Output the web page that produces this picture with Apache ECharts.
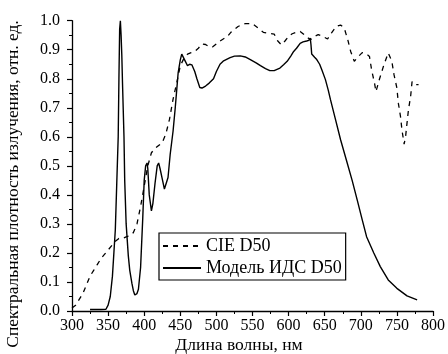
<!DOCTYPE html>
<html><head><meta charset="utf-8">
<script src="https://cdn.jsdelivr.net/npm/echarts@6/dist/echarts.min.js"></script>
<style>html,body{margin:0;padding:0;background:#fff}#c{width:448px;height:354px}</style>
</head><body><div id="c"></div>
<script>
var xTicks = ['300','350','400','450','500','550','600','650','700','750','800'];
var yTicks = ['0.0','0.1','0.2','0.3','0.4','0.5','0.6','0.7','0.8','0.9','1.0'];
var seriesNames = ['CIE D50', 'Модель ИДС D50'];
var cieWl = [300,305,310,315,320,325,330,335,340,345,350,355,360,365,370,375,380,385,390,395,400,405,410,415,420,425,430,435,440,445,450,455,460,465,470,475,480,485,490,495,500,505,510,515,520,525,530,535,540,545,550,555,560,565,570,575,580,585,590,595,600,605,610,616,620,625,630,635,641,648,654,660,666,672,677,682,686,691,696,702,708,712,715,719,721,726,732,738,743,746,750,752,755,757,760,762,764,766,769,771,775,780];
var cieVal = [0.01,0.02,0.04,0.06,0.09,0.12,0.14,0.16,0.18,0.195,0.21,0.225,0.24,0.25,0.25,0.255,0.26,0.27,0.30,0.36,0.43,0.50,0.545,0.56,0.57,0.58,0.61,0.66,0.73,0.785,0.845,0.87,0.885,0.89,0.894,0.905,0.92,0.918,0.91,0.91,0.92,0.93,0.938,0.945,0.96,0.97,0.98,0.986,0.99,0.99,0.99,0.98,0.97,0.96,0.958,0.956,0.954,0.93,0.917,0.93,0.946,0.955,0.96,0.963,0.955,0.945,0.934,0.945,0.952,0.945,0.937,0.96,0.98,0.985,0.975,0.934,0.894,0.86,0.875,0.89,0.885,0.877,0.83,0.785,0.756,0.8,0.848,0.889,0.86,0.814,0.768,0.716,0.67,0.624,0.575,0.6,0.647,0.693,0.739,0.79,0.78,0.78];
var modelWl = [325,330,340,347,350,353,356,358,360,362,364,365,366,367,368,369,370,372,373,375,378,380,383,385,387,390,392,395,398,400,402,404,405,407,410,412,415,418,420,422,425,428,430,433,436,440,443,445,447,450,452,454,457,460,463,466,470,473,477,480,485,490,496,500,505,510,519,525,533,540,547,555,561,568,574,580,588,593,598,603,607,611,616,620,625,628,630,631,632,636,639,643,646,651,655,658,665,672,680,688,695,702,708,718,727,738,750,764,778];
var modelVal = [0.005,0.005,0.005,0.006,0.02,0.05,0.12,0.2,0.28,0.44,0.6,0.8,0.97,1.0,0.95,0.88,0.78,0.6,0.45,0.30,0.19,0.14,0.095,0.07,0.055,0.06,0.075,0.15,0.32,0.45,0.5,0.51,0.49,0.40,0.345,0.37,0.44,0.5,0.51,0.49,0.455,0.42,0.418,0.46,0.54,0.62,0.70,0.76,0.82,0.865,0.885,0.89,0.86,0.845,0.85,0.848,0.825,0.80,0.77,0.768,0.775,0.785,0.80,0.825,0.85,0.862,0.873,0.878,0.879,0.875,0.866,0.855,0.845,0.835,0.828,0.828,0.837,0.848,0.86,0.878,0.894,0.905,0.922,0.927,0.93,0.932,0.94,0.917,0.885,0.874,0.866,0.85,0.831,0.797,0.76,0.728,0.659,0.59,0.52,0.45,0.383,0.314,0.256,0.2,0.153,0.107,0.078,0.052,0.038];
var xName = 'Длина волны, нм';
var yName = 'Спектральная плотность излучения, отн. ед.';

function pairs(a, b) { return a.map(function (v, i) { return [v, b[i]]; }); }
var FONT = '"Liberation Serif", "Times New Roman", serif';
var chart = echarts.init(document.getElementById('c'), null, { renderer: 'canvas' });
var axisCommon = {
  axisLine: { show: true, onZero: false, lineStyle: { color: '#000', width: 1.3 } },
  axisTick: { show: true, inside: false, length: 5, lineStyle: { color: '#000', width: 1.2 } },
  minorTick: { show: true, splitNumber: 2, length: 3, lineStyle: { color: '#000', width: 1 } },
  splitLine: { show: false },
  axisLabel: { color: '#000', fontFamily: FONT, fontSize: 16 }
};
chart.setOption({
  animation: false,
  backgroundColor: '#fff',
  grid: { left: 72, right: 15, top: 20.7, bottom: 43 },
  xAxis: Object.assign({}, axisCommon, {
    type: 'value', min: +xTicks[0], max: +xTicks[xTicks.length - 1], interval: 50,
    axisLabel: Object.assign({}, axisCommon.axisLabel, { margin: 7, showMinLabel: true, showMaxLabel: true })
  }),
  yAxis: Object.assign({}, axisCommon, {
    type: 'value', min: +yTicks[0], max: +yTicks[yTicks.length - 1], interval: 0.1,
    axisLabel: Object.assign({}, axisCommon.axisLabel, { margin: 12, formatter: function (v) { return v.toFixed(1); } })
  }),
  legend: {
    orient: 'vertical', left: 159, top: 233,
    padding: [4, 4, 3, 3], itemGap: 4, itemWidth: 38, itemHeight: 18,
    borderColor: '#000', borderWidth: 1.2, backgroundColor: '#fff',
    itemStyle: { opacity: 0, borderWidth: 0 },
    textStyle: { color: '#000', fontFamily: FONT, fontSize: 18 },
    data: seriesNames
  },
  graphic: [
    { type: 'text', x: 239, y: 345, style: { text: xName, font: '17.5px ' + FONT, fill: '#000', align: 'center', verticalAlign: 'middle' } },
    { type: 'text', x: 13, y: 184, rotation: Math.PI / 2, style: { text: yName, font: '17.4px ' + FONT, fill: '#000', align: 'center', verticalAlign: 'middle' } }
  ],
  series: [
    { name: seriesNames[0], type: 'line', data: pairs(cieWl, cieVal), showSymbol: false, symbol: 'none', smooth: false,
      lineStyle: { color: '#000', width: 1.3, type: [5, 5] }, itemStyle: { color: '#000' } },
    { name: seriesNames[1], type: 'line', data: pairs(modelWl, modelVal), showSymbol: false, symbol: 'none', smooth: false,
      lineStyle: { color: '#000', width: 1.4, type: 'solid' }, itemStyle: { color: '#000' } }
  ]
});
</script></body></html>
